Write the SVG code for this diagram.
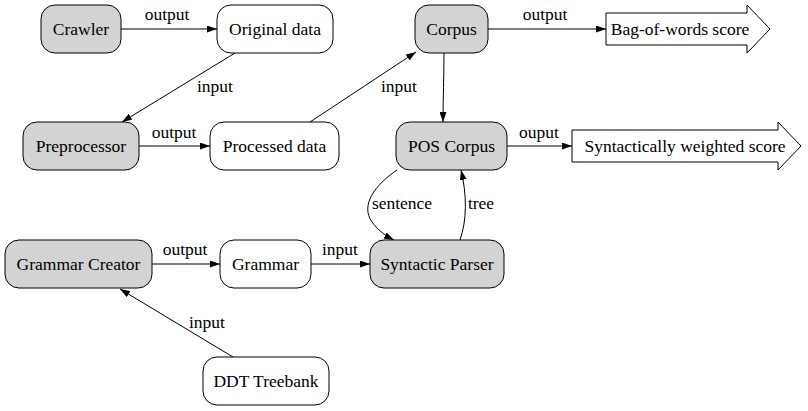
<svg xmlns="http://www.w3.org/2000/svg" width="808" height="411" viewBox="0 0 808 411">
<defs>
<marker id="ah" markerWidth="10" markerHeight="7" refX="10" refY="3.5" orient="auto" markerUnits="userSpaceOnUse">
<path d="M0,0 L10,3.5 L0,7 z" fill="#000"/>
</marker>
<style>
text{font-family:'Liberation Serif',serif;font-size:17.5px;fill:#000;text-anchor:middle}
.n{stroke:#000;stroke-width:1;fill:#fff}
.g{fill:#d3d3d3}
.e{stroke:#000;stroke-width:1;fill:none;marker-end:url(#ah)}
</style>
</defs>
<rect width="808" height="411" fill="#fff"/>
<g id="edges" font-family="Liberation Serif" font-size="17.5">
<path class="e" d="M121,29 L217,29"/>
<path class="e" d="M235,53 L122,122"/>
<path class="e" d="M139,146 L210,146"/>
<path class="e" d="M310,122 L416,52"/>
<path class="e" d="M444,53 C444,75 443,100 443,122"/>
<path class="e" d="M488,29 L606,29"/>
<path class="e" d="M507,146 L572,146"/>
<path class="e" d="M397,170 C375,185 360,205 372,222 C377,229 384,235 394,240"/>
<path class="e" d="M460,240 C467,220 467,195 461,170"/>
<path class="e" d="M152,264 L220,264"/>
<path class="e" d="M311,264 L370,264"/>
<path class="e" d="M233,357 L120,289"/>
<text x="167" y="20">output</text>
<text x="215" y="92">input</text>
<text x="174" y="138">output</text>
<text x="399" y="92">input</text>
<text x="545" y="20">output</text>
<text x="539" y="138">ouput</text>
<text x="402" y="209">sentence</text>
<text x="481" y="209">tree</text>
<text x="185" y="255">output</text>
<text x="340" y="255">input</text>
<text x="207" y="328">input</text>
</g>
<g font-family="Liberation Serif" font-size="17.5">
<g id="crawler"><rect class="n g" x="41" y="5" width="80" height="48" rx="14"/><text x="81" y="35">Crawler</text></g>
<g id="original"><rect class="n" x="217" y="5" width="116" height="48" rx="14"/><text x="275" y="35">Original data</text></g>
<g id="preprocessor"><rect class="n g" x="23" y="122" width="116" height="48" rx="14"/><text x="81" y="152">Preprocessor</text></g>
<g id="processed"><rect class="n" x="210" y="122" width="129" height="48" rx="14"/><text x="274.5" y="152">Processed data</text></g>
<g id="corpus"><rect class="n g" x="415" y="5" width="73" height="48" rx="14"/><text x="451.5" y="35">Corpus</text></g>
<g id="bow"><path class="n" d="M606,13 L747,13 L747,5 L770,29 L747,53 L747,45 L606,45 Z"/><text x="680" y="35">Bag-of-words score</text></g>
<g id="pos"><rect class="n g" x="396" y="122" width="111" height="48" rx="14"/><text x="451.5" y="152">POS Corpus</text></g>
<g id="sws"><path class="n" d="M572,130 L778,130 L778,122 L801,146 L778,170 L778,162 L572,162 Z"/><text x="685" y="152">Syntactically weighted score</text></g>
<g id="gc"><rect class="n g" x="5" y="240" width="147" height="48" rx="14"/><text x="78.5" y="270">Grammar Creator</text></g>
<g id="grammar"><rect class="n" x="220" y="240" width="91" height="48" rx="14"/><text x="265.5" y="270">Grammar</text></g>
<g id="parser"><rect class="n g" x="370" y="240" width="134" height="48" rx="14"/><text x="437" y="270">Syntactic Parser</text></g>
<g id="ddt"><rect class="n" x="203" y="357" width="126" height="48" rx="14"/><text x="266" y="387">DDT Treebank</text></g>
</g>
</svg>
